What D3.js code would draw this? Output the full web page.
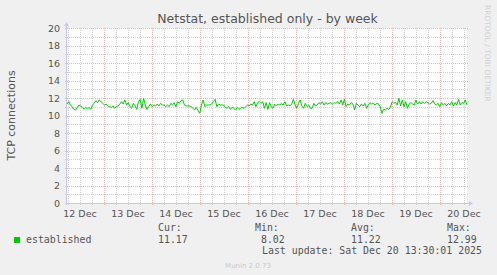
<!DOCTYPE html>
<html>
<head>
<meta charset="utf-8">
<script src="https://cdn.jsdelivr.net/npm/d3@7"></script>
<style>
  body { margin: 0; background: #f0f0f0; }
  svg { display: block; }
</style>
</head>
<body>
<div id="canvas"></div>
<script>
"use strict";

/* ---------------- DATA ---------------- */
let established = [
    11.3, 11.6, 11.2, 11.0, 10.7, 10.63, 10.93, 11.2, 11.09, 10.93, 10.7, 10.93, 10.74, 10.93, 10.7, 11.2,
    11.39, 11.7, 11.47, 11.77, 11.58, 11.39, 11.2, 11.31, 11.09, 11.01, 10.93, 11.09, 10.82, 11.01, 11.09,
    11.31, 11.58, 11.31, 11.77, 11.2, 11.47, 11.01, 10.82, 11.39, 11.09, 10.7, 11.58, 11.85, 10.82, 11.96,
    11.2, 10.7, 11.01, 11.31, 11.01, 11.2, 11.09, 11.31, 11.09, 11.39, 11.2,
    11.2, 11.01, 11.2, 11.01, 11.39, 11.2, 11.47, 11.01, 11.58, 11.39, 11.7, 11.77, 11.2, 11.09, 11.09,
    11.09, 11.01, 10.82, 10.63, 10.93, 10.55, 10.25, 11.2, 11.77, 11.01, 11.2, 11.2, 11.2, 11.31, 11.58,
    11.85, 11.01, 11.31, 11.2, 11.2, 11.2, 10.93, 10.82, 11.01, 10.7, 10.93, 10.82, 10.63, 10.93, 10.7,
    10.82, 10.93, 10.82, 11.01, 11.2, 11.09, 11.31, 11.2, 11.58, 11.01, 11.47, 11.58, 11.39, 11.58, 10.82, 11.47,
    10.7, 11.47, 11.01, 10.82, 11.31, 11.09, 11.31, 11.2, 11.39, 11.2, 11.58, 11.09, 11.2, 11.09, 11.31,
    11.85, 11.2, 10.82, 11.39, 11.77, 11.09, 10.82, 11.39, 11.01, 11.2, 10.82, 10.82, 11.39, 11.09, 11.2,
    11.47, 11.31, 11.58, 11.2, 11.47, 11.31, 11.39, 11.47, 11.31, 11.47, 11.39, 11.58, 11.31, 11.77, 11.2,
    11.85, 11.01, 11.31, 11.2, 11.47, 11.31, 10.63, 11.39, 11.2, 11.01, 11.31, 11.09, 11.39, 10.82, 11.2,
    11.47, 11.31, 11.39, 11.2, 11.39, 11.31, 11.01, 10.25, 10.7, 10.63, 10.82, 10.7, 10.93, 11.58, 11.39,
    11.47, 11.2, 11.96, 11.09, 11.77, 11.01, 11.58, 10.82, 11.31, 11.47, 11.31, 11.2, 11.77, 11.31, 11.58,
    11.31, 11.58, 11.39, 11.58, 11.47, 11.31, 11.39, 11.7, 11.31, 11.2, 11.39, 11.01, 11.47, 11.2, 11.39,
    11.09, 11.39, 11.2, 11.58, 11.09, 11.47, 11.2, 11.85, 11.2, 11.47, 11.39, 11.77, 11.2
];

let yTicks = [0, 2, 4, 6, 8, 10, 12, 14, 16, 18, 20];
let statLabels = ["Cur:", "Min:", "Avg:", "Max:"];
let statValues = ["11.17", " 8.02", "11.22", "12.99"];
let lastUpdate = "Last update: Sat Dec 20 13:30:01 2025";

let endTime = new Date(2025, 11, 20, 13, 30, 1);
let startTime = new Date(+endTime - 200 * 3600 * 1000);

/* ---------------- LAYOUT ---------------- */
let svgWidth = 497;
let svgHeight = 275;
let plot = { left: 67, right: 467, top: 28, bottom: 203 };

let textColor = "#555";
let minorGrid = "#d0d0d0";
let majorGrid = "#efb4b4";
let axisColor = "#c8c8f4";

let svg = d3.select("#canvas")
    .append("svg")
    .attr("width", svgWidth)
    .attr("height", svgHeight)
    .style("font-family", "'DejaVu Sans', sans-serif");

svg.append("rect")
    .attr("width", svgWidth)
    .attr("height", svgHeight)
    .attr("fill", "#f0f0f0");

svg.append("rect")
    .attr("x", plot.left)
    .attr("y", plot.top)
    .attr("width", plot.right - plot.left)
    .attr("height", plot.bottom - plot.top)
    .attr("fill", "white");

/* ---------------- SCALES ---------------- */
let xScale = d3.scaleTime()
    .domain([startTime, endTime])
    .range([plot.left, plot.right]);

let yScale = d3.scaleLinear()
    .domain([0, 20])
    .range([plot.bottom, plot.top]);

let px = v => Math.round(v) + 0.5;

/* ---------------- GRID ---------------- */
let gridLayer = svg.append("g").attr("shape-rendering", "crispEdges");

// minor horizontal every 1
d3.range(1, 20).filter(v => v % 2 !== 0).forEach(function (v) {
    gridLayer.append("line")
        .attr("x1", plot.left - 2).attr("x2", plot.right + 1)
        .attr("y1", px(yScale(v))).attr("y2", px(yScale(v)))
        .attr("stroke", minorGrid)
        .attr("stroke-dasharray", "1,1");
});

// minor vertical every 6 hours
d3.timeHour.every(6).range(startTime, endTime)
    .filter(d => d.getHours() !== 0)
    .forEach(function (d) {
        gridLayer.append("line")
            .attr("x1", px(xScale(d))).attr("x2", px(xScale(d)))
            .attr("y1", plot.top).attr("y2", plot.bottom + 2)
            .attr("stroke", minorGrid)
            .attr("stroke-dasharray", "1,1");
    });

// major horizontal
yTicks.filter(v => v > 0).forEach(function (v) {
    gridLayer.append("line")
        .attr("x1", plot.left - 2).attr("x2", plot.right + 1)
        .attr("y1", px(yScale(v))).attr("y2", px(yScale(v)))
        .attr("stroke", majorGrid)
        .attr("stroke-dasharray", "1,1");
});

// major vertical at midnight
d3.timeDay.range(startTime, endTime).forEach(function (d) {
    gridLayer.append("line")
        .attr("x1", px(xScale(d))).attr("x2", px(xScale(d)))
        .attr("y1", plot.top).attr("y2", plot.bottom + 3)
        .attr("stroke", majorGrid)
        .attr("stroke-dasharray", "1,1");
});

/* ---------------- AXES ---------------- */
svg.append("line")
    .attr("x1", plot.left - 2).attr("x2", plot.right + 2)
    .attr("y1", px(plot.bottom)).attr("y2", px(plot.bottom))
    .attr("stroke", axisColor)
    .attr("shape-rendering", "crispEdges");

svg.append("line")
    .attr("x1", px(plot.left - 1)).attr("x2", px(plot.left - 1))
    .attr("y1", plot.top - 2).attr("y2", plot.bottom + 2)
    .attr("stroke", axisColor)
    .attr("shape-rendering", "crispEdges");

// arrows
svg.append("path")
    .attr("d", "M" + (plot.right + 2) + "," + (plot.bottom - 2) +
        " L" + (plot.right + 6) + "," + (plot.bottom + 0.5) +
        " L" + (plot.right + 2) + "," + (plot.bottom + 3) + " Z")
    .attr("fill", axisColor);

svg.append("path")
    .attr("d", "M" + (plot.left - 3) + "," + (plot.top - 2) +
        " L" + (plot.left - 0.5) + "," + (plot.top - 6) +
        " L" + (plot.left + 2) + "," + (plot.top - 2) + " Z")
    .attr("fill", axisColor);

/* ---------------- TICK LABELS ---------------- */
yTicks.forEach(function (v) {
    svg.append("text")
        .attr("x", plot.left - 7)
        .attr("y", yScale(v) + 3.5)
        .attr("text-anchor", "end")
        .attr("font-size", "9.5px")
        .attr("fill", textColor)
        .text(v);
});

let dayFormat = d3.timeFormat("%d %b");
d3.timeHour.range(startTime, endTime)
    .filter(d => d.getHours() === 12)
    .forEach(function (d) {
        svg.append("text")
            .attr("x", xScale(d))
            .attr("y", plot.bottom + 14)
            .attr("text-anchor", "middle")
            .attr("font-size", "9.5px")
            .attr("fill", textColor)
            .text(dayFormat(d));
    });

/* ---------------- SERIES LINE ---------------- */
let n = established.length;
let pointTime = i => new Date(+startTime + i * (endTime - startTime) / (n - 1));

let line = d3.line()
    .x((d, i) => xScale(pointTime(i)))
    .y(d => yScale(d));

svg.append("path")
    .datum(established)
    .attr("d", line)
    .attr("fill", "none")
    .attr("stroke", "#00cc00")
    .attr("stroke-width", 1);

/* ---------------- TITLES ---------------- */
svg.append("text")
    .attr("x", (plot.left + plot.right) / 2 + 0.5)
    .attr("y", 23)
    .attr("text-anchor", "middle")
    .attr("font-size", "12.5px")
    .attr("fill", textColor)
    .text("Netstat, established only - by week");

svg.append("text")
    .attr("transform", "translate(15," + ((plot.top + plot.bottom) / 2) + ") rotate(-90)")
    .attr("text-anchor", "middle")
    .attr("font-size", "11px")
    .attr("fill", textColor)
    .text("TCP connections");

svg.append("text")
    .attr("transform", "translate(485,5) rotate(90)")
    .attr("font-size", "7.5px")
    .attr("fill", "#d0d0d0")
    .text("RRDTOOL / TOBI OETIKER");

/* ---------------- LEGEND ---------------- */
let mono = "'DejaVu Sans Mono', monospace";

svg.append("rect")
    .attr("x", 14).attr("y", 237)
    .attr("width", 6).attr("height", 6)
    .attr("fill", "#00cc00");

svg.append("text")
    .attr("x", 26).attr("y", 243)
    .attr("font-family", mono)
    .attr("font-size", "9.9px")
    .attr("fill", textColor)
    .text("established");

let statX = [158, 255, 351, 447];
statLabels.forEach(function (label, i) {
    svg.append("text")
        .attr("x", statX[i]).attr("y", 231)
        .attr("font-family", mono)
        .attr("font-size", "9.9px")
        .attr("fill", textColor)
        .text(label);

    svg.append("text")
        .attr("x", statX[i]).attr("y", 243)
        .attr("font-family", mono)
        .attr("font-size", "9.9px")
        .attr("fill", textColor)
        .attr("xml:space", "preserve")
        .style("white-space", "pre")
        .text(statValues[i]);
});

svg.append("text")
    .attr("x", 482).attr("y", 254)
    .attr("text-anchor", "end")
    .attr("font-family", mono)
    .attr("font-size", "9.9px")
    .attr("fill", textColor)
    .text(lastUpdate);

svg.append("text")
    .attr("x", 248).attr("y", 268)
    .attr("text-anchor", "middle")
    .attr("font-size", "7px")
    .attr("fill", "#c8c8c8")
    .text("Munin 2.0.73");
</script>
</body>
</html>
